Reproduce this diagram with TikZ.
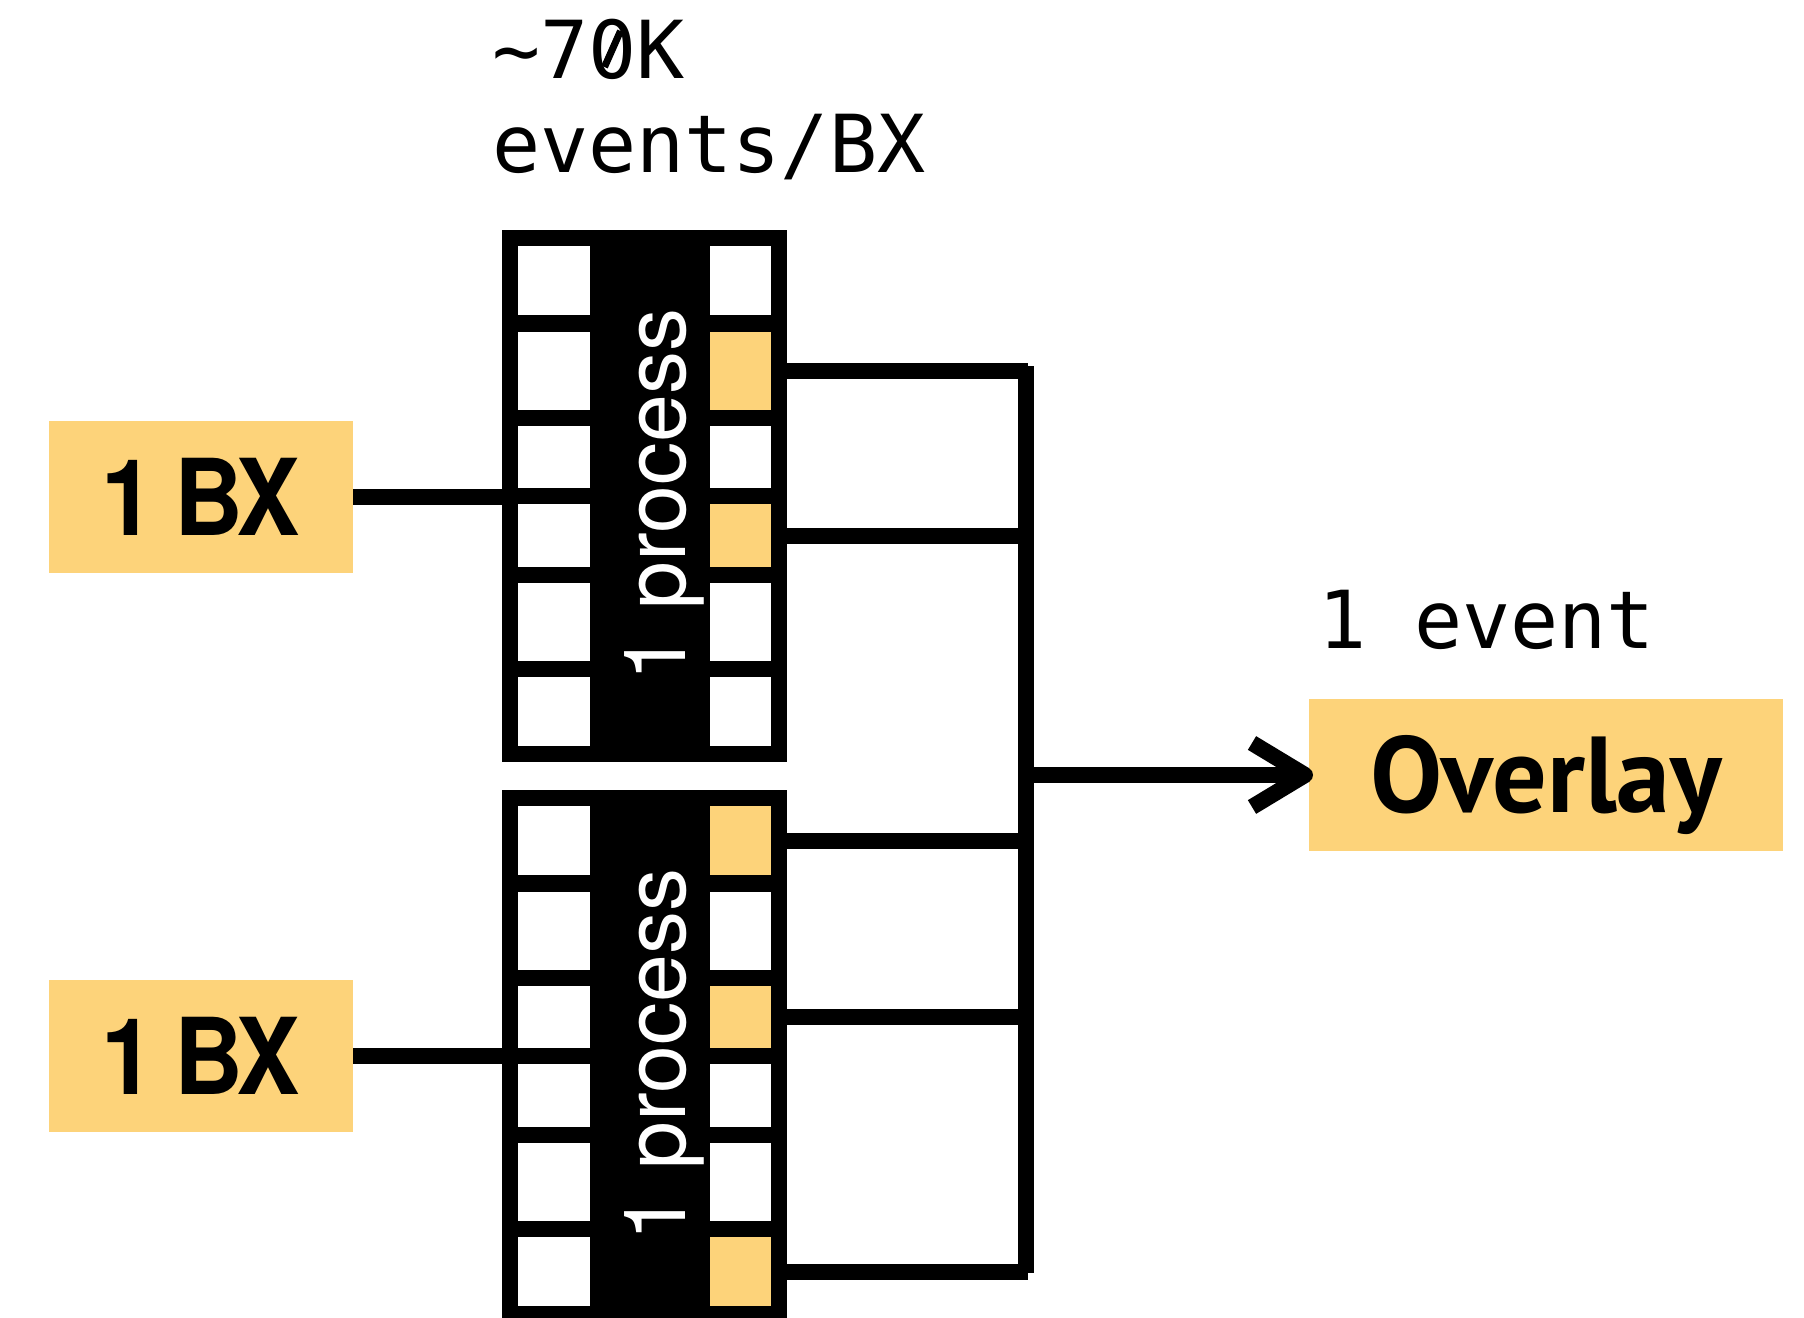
\documentclass[tikz,border=0pt]{standalone}
\usepackage{fontspec}
\usetikzlibrary{calc}
\newfontfamily\monofont{DejaVu Sans Mono}
\newfontfamily\helvfont{TeX Gyre Heros}
\newfontfamily\bxfont[FakeStretch=0.90]{TeX Gyre Heros}
\newfontfamily\ovfont{PT Sans}
\definecolor{gold}{RGB}{253,211,122}
\tikzset{
  wire/.style={line width=8pt, draw=black},
  slot/.style={inner sep=0pt, outer sep=0pt, draw=none},
  blockbg/.style={slot, fill=black, minimum width=142.5pt, minimum height=266pt},
  bxbox/.style={slot, fill=gold, minimum width=152pt, minimum height=76pt,
    font={\bxfont\bfseries\fontsize{53pt}{60pt}\selectfont},
    text height=38pt, text depth=0pt},
  ovbox/.style={slot, fill=gold, minimum width=237pt, minimum height=76pt,
    font={\ovfont\bfseries\fontsize{54pt}{60pt}\selectfont},
    text height=37.8pt, text depth=0pt},
  monolabel/.style={inner sep=0pt, outer sep=0pt,
    font={\monofont\fontsize{40pt}{47pt}\selectfont}},
  proclabel/.style={inner sep=0pt, outer sep=0pt, text=white, rotate=90, anchor=base,
    font={\helvfont\fontsize{43pt}{50pt}\selectfont}},
  zerostroke/.style={line width=3.5pt, draw=black}
}
\begin{document}
\begin{tikzpicture}[x=0.5pt, y=-0.5pt]
\useasboundingbox (0,0) rectangle (1804,1317);
\fill[white] (0,0) rectangle (1804,1317);

% event rate per bunch crossing
\node[monolabel, anchor=base west] (rateA) at (492,78) {\textasciitilde 70K};
\node[monolabel, anchor=base west] (rateB) at (492,172) {events/BX};
% slashed zero: the dot of the zero is replaced by a diagonal stroke
\coordinate (zc) at ($(rateA.base west)+(120.5,-29)$);
\fill[white] (zc) ellipse [x radius=7, y radius=11];
\draw[zerostroke] ($(zc)+(-8,18)$) -- ($(zc)+(8,-18)$);

% two processing blocks, six slots per side
\foreach \blk/\dy in {1/0, 2/560}{
  \node[blockbg] (blk\blk) at (644.5,{496+\dy}) {};
  \foreach \t/\b [count=\i] in {246/315,332/410,426/488,504/567,583/661,677/746}{
    \node[slot, fill=white, minimum width=36pt, minimum height={(\b-\t)*0.5pt}]
      (L\blk-\i) at (554,{(\t+\b)/2+\dy}) {};
    \node[slot, fill=white, minimum width=30.5pt, minimum height={(\b-\t)*0.5pt}]
      (R\blk-\i) at (740.5,{(\t+\b)/2+\dy}) {};
  }
  \node[proclabel] (proc\blk) at (685,{495+\dy}) {1 process};
}
% selected output slots
\foreach \n in {R1-2,R1-4,R2-1,R2-3,R2-6}
  \fill[gold] (\n.north west) rectangle (\n.south east);

% inputs
\node[bxbox] (bx1) at (201,497) {1\kern-3.3pt\ B\kern-3.5pt X};
\node[bxbox] (bx2) at (201,1056) {1\kern-3.3pt\ B\kern-3.5pt X};
\draw[wire] (bx1.east) -- (bx1.east -| blk1.west);
\draw[wire] (bx2.east) -- (bx2.east -| blk2.west);

% collecting bus
\coordinate (bustop) at (1026,366);
\coordinate (busbot) at (1026,1273);
\coordinate (busout) at (1026,775);
\draw[wire] (bustop) -- (busbot);
\foreach \n in {R1-2,R1-4,R2-1,R2-3,R2-6}
  \draw[wire] (\n.east) -- ($(\n.east -| bustop)+(2,0)$);

% output
\node[ovbox] (ov) at (1546,775) {Overlay};
\node[monolabel, anchor=base west] (evt) at (1318,648) {1 event};
\draw[wire] (busout) -- ([xshift=-2pt]ov.west);
\draw[wire, line join=round] ([shift={(-57,-32)}]ov.west) -- ([shift={(-4,0)}]ov.west) -- ([shift={(-57,32)}]ov.west);
\end{tikzpicture}
\end{document}
